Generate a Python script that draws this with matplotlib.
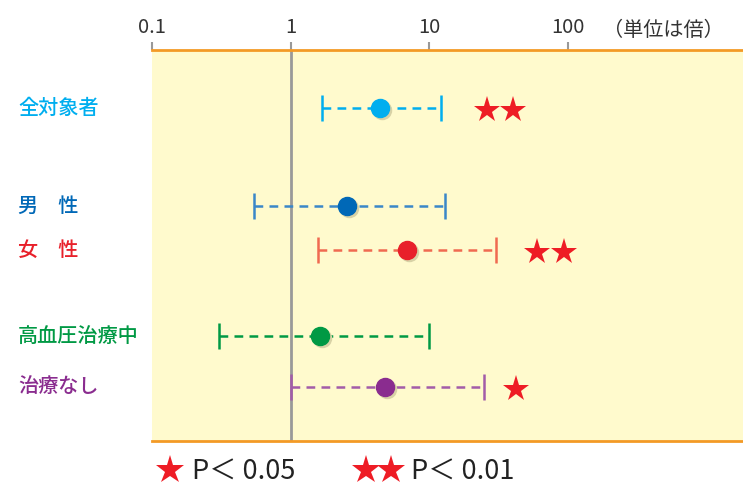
import matplotlib.pyplot as plt
import matplotlib.transforms as mtransforms
from matplotlib.lines import Line2D

plt.rcParams['font.family'] = ['Noto Sans CJK JP', 'DejaVu Sans']

# 各グループのオッズ比と95%信頼区間(単位は倍)
groups = ['全対象者', '男　性', '女　性', '高血圧治療中', '治療なし']
row_pos = [108, 206, 250, 336, 387]
odds = [4.4, 2.55, 6.9, 1.63, 4.8]
ci_low = [1.69, 0.545, 1.58, 0.305, 1.0]
ci_high = [12.2, 13.1, 30.5, 10.0, 25.0]
star_x = [[26.2, 40.4], [], [60.0, 94.0], [], [42.5]]

dot_colors = ['#00aeef', '#0068b7', '#e8202a', '#009944', '#8a2c8f']
line_colors = ['#00aeef', '#3a87c8', '#f06a50', '#009944', '#a35ca8']
label_colors = ['#00aeef', '#0068b7', '#e8202a', '#009944', '#8a2c8f']

ticks = [0.1, 1, 10, 100]
tick_labels = ['0.1', '1', '10', '100']

fig = plt.figure(figsize=(7.43, 4.86), dpi=100)
ax = fig.add_axes([152 / 743, 1 - 441 / 486, 591 / 743, 391 / 486])
ax.set_facecolor('#fffacd')
ax.set_xscale('log')
ax.set_xlim(0.1, 10 ** 3.267)
ax.set_ylim(441, 50)

for s in ['left', 'right']:
    ax.spines[s].set_visible(False)
ax.spines['top'].set_color('#f39a26')
ax.spines['bottom'].set_color('#f39a26')
ax.spines['top'].set_linewidth(2)
ax.spines['bottom'].set_linewidth(2)

ax.xaxis.tick_top()
ax.set_xticks(ticks)
ax.set_xticklabels(tick_labels)
ax.xaxis.set_minor_locator(plt.NullLocator())
ax.tick_params(axis='x', direction='out', length=6, width=1.5, color='#999999',
               labelsize=14.5, labelcolor='#333333', pad=3)
ax.set_yticks([])

ax.axvline(1, color='#999999', lw=2, zorder=1)

shadow = mtransforms.offset_copy(ax.transData, fig=fig, x=2, y=-2, units='dots')
label_tr = mtransforms.blended_transform_factory(fig.transFigure, ax.transData)

for i in range(len(groups)):
    y = row_pos[i]
    ax.plot([ci_low[i], ci_high[i]], [y, y], ls=(0, (3.5, 2.5)), lw=1.8,
            color=line_colors[i], zorder=2)
    ax.plot([ci_low[i], ci_high[i]], [y, y], ls='none', marker='|', ms=19,
            mew=1.8, color=line_colors[i], zorder=2)
    ax.plot(odds[i], y, 'o', ms=13, color='#d8d2a6', transform=shadow, zorder=3)
    ax.plot(odds[i], y, 'o', ms=13, color=dot_colors[i], zorder=4)
    for sx in star_x[i]:
        ax.plot(sx, y + 2, marker='*', ms=20, color='#ee1c25', mew=0, zorder=4)
    ax.text(18 / 743, y, groups[i], transform=label_tr,
            color=label_colors[i], fontsize=14.5, fontweight='medium', va='center', ha='left')

fig.text(603 / 743, 1 - 30 / 486, '（単位は倍）', fontsize=14.5, color='#333333', va='center', ha='left')

# 凡例
for lx in [170, 366, 391]:
    fig.add_artist(Line2D([lx / 743], [1 - 470 / 486], marker='*', ms=21, mew=0,
                          color='#ee1c25', transform=fig.transFigure))
fig.text(192 / 743, 1 - 471 / 486, 'P＜ 0.05', fontsize=19.5, color='#222222', va='center', ha='left')
fig.text(411 / 743, 1 - 471 / 486, 'P＜ 0.01', fontsize=19.5, color='#222222', va='center', ha='left')

fig.savefig('out.png', dpi=100)
